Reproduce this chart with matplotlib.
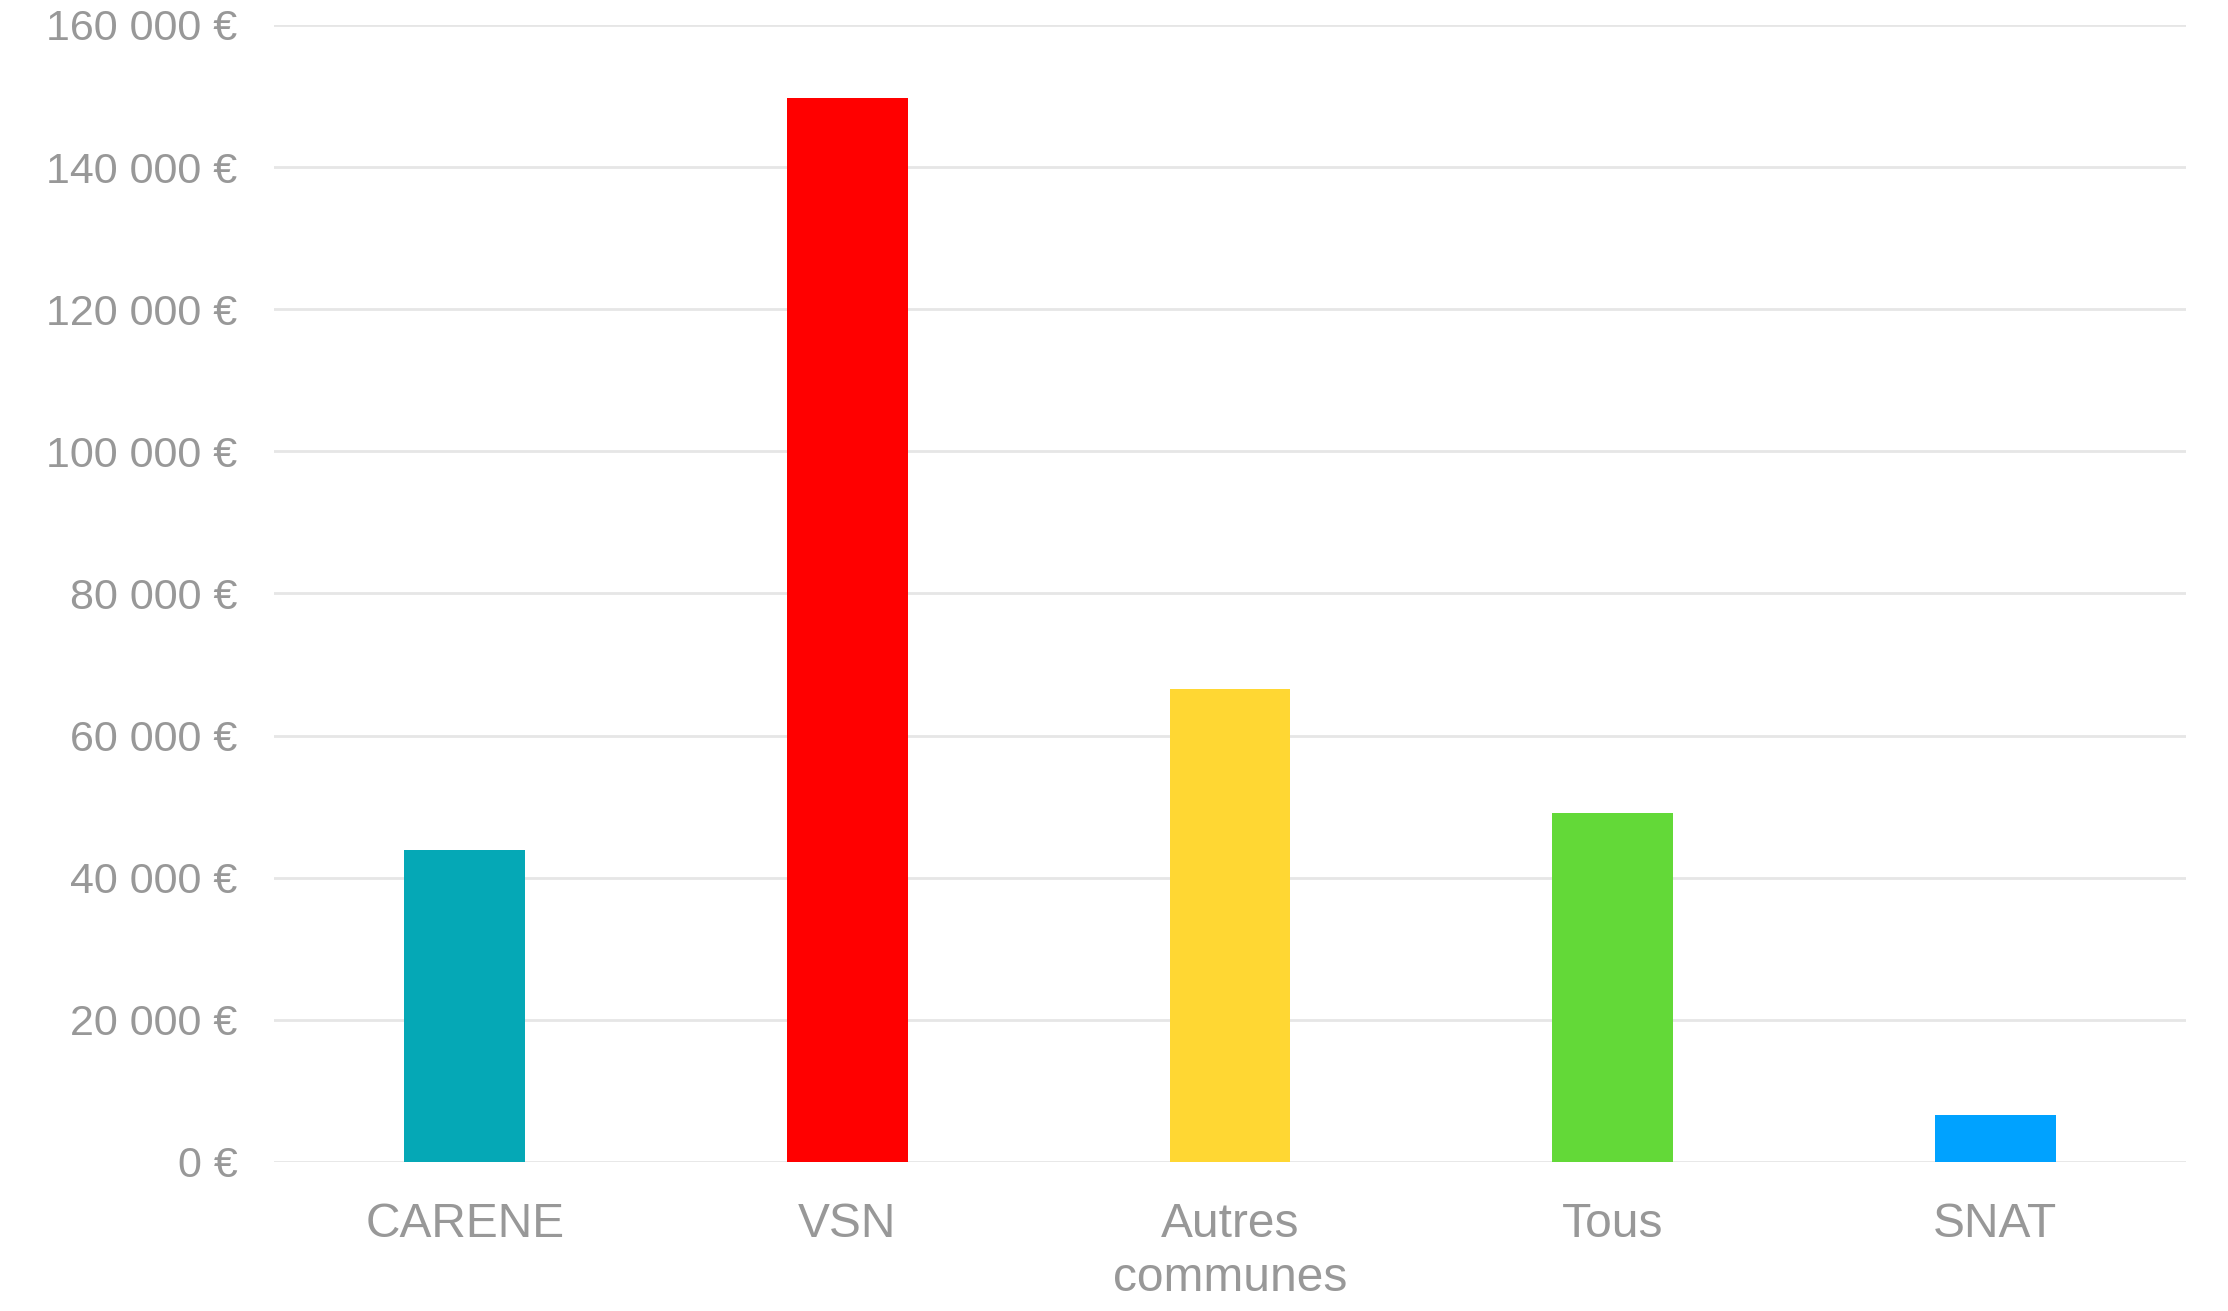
import matplotlib
matplotlib.use('Agg')
import matplotlib.pyplot as plt
from matplotlib.ticker import FuncFormatter, MultipleLocator

plt.rcParams['font.family'] = ['Liberation Sans', 'DejaVu Sans']

categories = ['CARENE', 'VSN', 'Autres\ncommunes', 'Tous', 'SNAT']
values = [43900, 149700, 66500, 49100, 6600]
colors = ['#05A8B6', '#FF0000', '#FFD733', '#63D938', '#00A2FF']

TEXT = '#989898'
GRID = '#E6E6E6'


def euro(v, pos):
    return f'{int(v):,} €'.replace(',', ' ')


fig = plt.figure(figsize=(22.28, 13.11), dpi=100)
ax = fig.add_axes([0.1228, 0.1137, 0.8585, 0.8673])

x = range(len(categories))
ax.bar(x, values, width=0.316, color=colors, zorder=3)

ax.set_xlim(-0.5, len(categories) - 0.5)
ax.set_ylim(0, 160000)
ax.yaxis.set_major_locator(MultipleLocator(20000))
ax.yaxis.set_major_formatter(FuncFormatter(euro))
ax.grid(axis='y', color=GRID, linewidth=2, zorder=0)
ax.set_axisbelow(True)

ax.set_xticks(list(x))
ax.set_xticklabels(categories, linespacing=1.25)
ax.tick_params(axis='x', length=0, pad=29, labelsize=34.5, labelcolor=TEXT)
ax.tick_params(axis='y', length=0, pad=26, labelsize=31, labelcolor=TEXT)
for s in ax.spines.values():
    s.set_visible(False)

fig.savefig('out.png', dpi=100, facecolor='white')
